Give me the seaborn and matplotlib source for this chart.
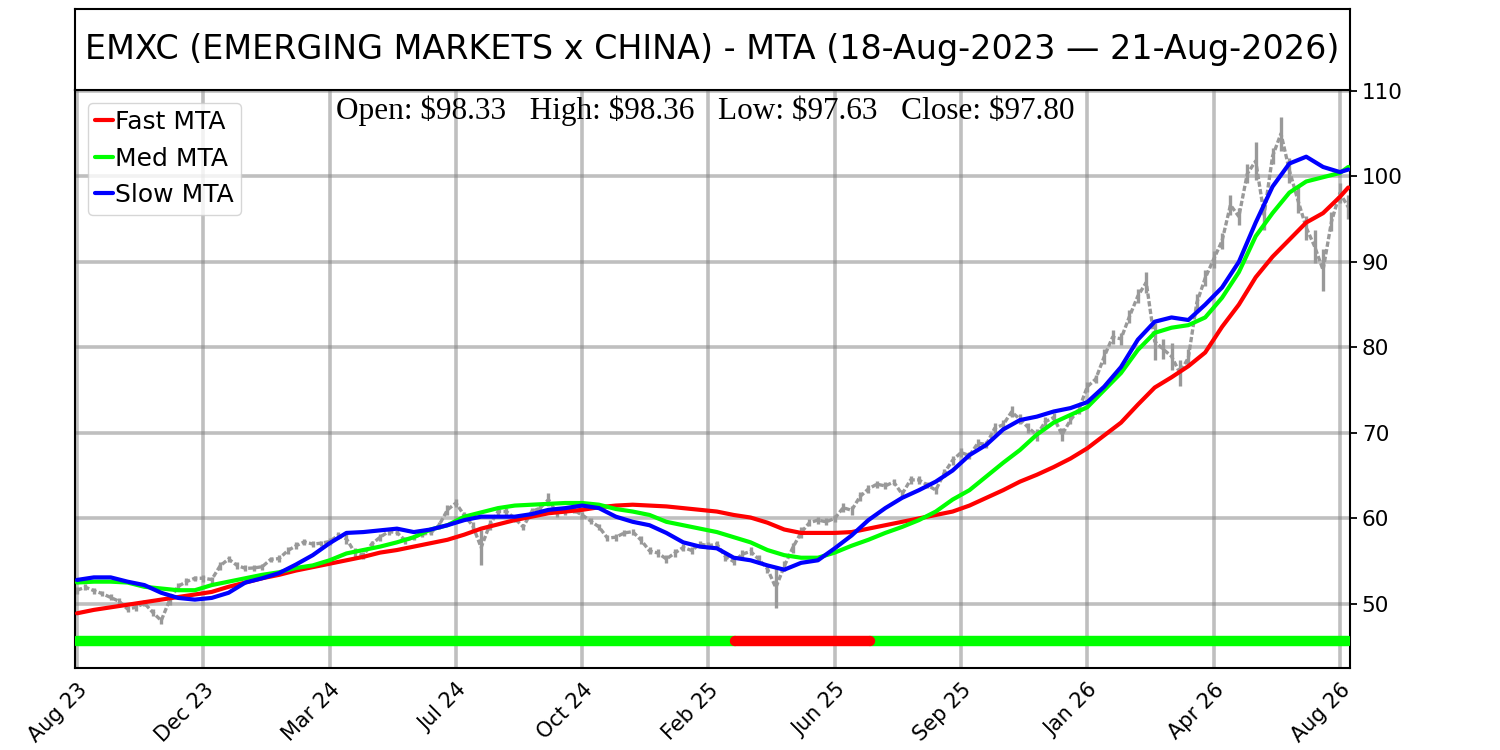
import numpy as np
import pandas as pd
import matplotlib
matplotlib.use("Agg")
import matplotlib.pyplot as plt
import seaborn as sns

# %% data

TITLE = "EMXC (EMERGING MARKETS x CHINA) - MTA (18-Aug-2023 \u2014 21-Aug-2026)"
OHLC_TEXT = r"Open: \$98.33   High: \$98.36   Low: \$97.63   Close: \$97.80"

n_bars = 756

# price bars sampled every 5 trading days (bar index = 5 * position)
price_low = [
    51.2, 51.6, 51.2, 50.9, 50.4, 49.9, 49.0, 49.2, 49.7, 48.6,
    47.7, 49.9, 51.6, 52.2, 52.7, 52.6, 52.5, 54.0, 54.9, 54.1,
    53.8, 53.9, 54.0, 54.9, 54.9, 55.8, 56.4, 56.9, 56.7, 56.8,
    56.9, 57.6, 57.0, 55.5, 55.3, 56.6, 57.4, 58.1, 58.0, 57.0,
    57.5, 57.8, 58.0, 58.8, 60.4, 61.3, 59.9, 58.7, 54.6, 58.6,
    60.4, 60.4, 59.6, 58.6, 60.4, 60.8, 61.4, 60.2, 60.4, 60.6,
    60.0, 59.3, 58.6, 57.3, 57.4, 57.9, 58.1, 57.0, 55.8, 55.5,
    54.8, 55.5, 56.2, 55.8, 56.6, 56.4, 56.6, 55.0, 54.5, 55.3,
    55.7, 54.7, 53.6, 49.5, 53.8, 56.0, 57.7, 59.1, 59.4, 59.2,
    59.6, 60.7, 60.4, 62.0, 63.0, 63.6, 63.4, 63.9, 62.4, 64.0,
    64.0, 63.5, 62.9, 64.8, 66.3, 67.2, 66.9, 68.3, 68.2, 70.0,
    70.4, 71.8, 71.0, 70.0, 69.0, 70.8, 71.3, 69.0, 71.0, 72.2,
    74.8, 75.8, 78.0, 80.4, 80.3, 82.8, 85.2, 86.4, 78.5, 78.6,
    77.4, 75.5, 77.8, 84.2, 87.2, 89.3, 91.5, 95.5, 94.3, 99.2,
    99.6, 93.7, 101.4, 103.0, 99.2, 95.7, 92.6, 89.9, 86.6, 93.6,
    96.9, 95.0,
]
price_high = [
    52.0, 52.3, 51.9, 51.5, 51.1, 50.7, 49.8, 50.0, 50.5, 49.4,
    48.4, 51.0, 52.5, 53.0, 53.3, 53.4, 53.2, 54.9, 55.6, 54.9,
    54.5, 54.5, 54.7, 55.5, 55.7, 56.6, 57.2, 57.6, 57.3, 57.4,
    57.7, 58.4, 58.2, 56.5, 56.1, 57.4, 58.2, 58.8, 58.7, 57.8,
    58.1, 58.5, 58.6, 59.6, 61.6, 62.3, 60.8, 59.6, 58.6, 59.8,
    61.2, 61.2, 60.4, 59.4, 61.2, 61.6, 63.0, 61.0, 61.2, 61.3,
    60.8, 60.1, 59.4, 58.1, 58.2, 58.7, 58.8, 57.9, 56.6, 56.4,
    55.7, 56.4, 57.0, 56.7, 57.4, 57.2, 57.4, 56.1, 55.4, 56.3,
    56.6, 55.7, 54.6, 54.3, 55.0, 57.1, 59.0, 59.9, 60.2, 60.0,
    60.4, 61.8, 61.5, 63.1, 63.9, 64.4, 64.2, 64.6, 63.3, 65.0,
    65.0, 64.3, 63.7, 65.8, 67.3, 68.2, 67.8, 69.3, 69.1, 71.1,
    71.5, 73.1, 72.2, 71.2, 70.5, 71.8, 72.3, 70.6, 72.0, 73.3,
    76.0, 76.8, 79.8, 82.0, 81.7, 84.4, 86.8, 88.8, 82.9, 81.0,
    80.5, 78.5, 79.8, 86.2, 89.0, 91.3, 93.4, 97.8, 96.3, 101.4,
    104.0, 97.3, 103.3, 107.0, 102.2, 98.8, 95.4, 93.7, 91.5, 95.8,
    99.2, 97.8,
]

# moving trend averages, read every 10 bars
mta_index = list(range(0, 751, 10)) + [755]
fast_mta = [
    48.9, 49.3, 49.6, 49.9, 50.2, 50.5, 50.8, 51.1, 51.4, 52.0,
    52.5, 53.0, 53.4, 53.9, 54.3, 54.7, 55.1, 55.5, 56.0, 56.3,
    56.7, 57.1, 57.5, 58.1, 58.8, 59.3, 59.8, 60.2, 60.6, 60.8,
    61.0, 61.3, 61.5, 61.6, 61.5, 61.4, 61.2, 61.0, 60.8, 60.4,
    60.1, 59.5, 58.7, 58.3, 58.3, 58.3, 58.4, 58.8, 59.2, 59.6,
    60.0, 60.4, 60.8, 61.5, 62.4, 63.3, 64.3, 65.1, 66.0, 67.0,
    68.2, 69.7, 71.2, 73.3, 75.3, 76.5, 77.8, 79.4, 82.4, 85.0,
    88.2, 90.6, 92.6, 94.6, 95.7, 97.6, 98.7,
]
med_mta = [
    52.5, 52.6, 52.6, 52.5, 52.0, 51.8, 51.6, 51.6, 52.2, 52.6,
    53.0, 53.4, 53.7, 54.2, 54.5, 55.1, 55.9, 56.3, 56.7, 57.2,
    57.8, 58.7, 59.2, 60.2, 60.7, 61.2, 61.5, 61.6, 61.7, 61.8,
    61.8, 61.6, 61.1, 60.8, 60.4, 59.6, 59.2, 58.8, 58.4, 57.8,
    57.2, 56.3, 55.7, 55.4, 55.4, 56.0, 56.8, 57.5, 58.3, 59.0,
    59.8, 60.8, 62.2, 63.3, 64.9, 66.5, 68.0, 69.8, 71.2, 72.1,
    73.0, 75.0, 77.0, 79.7, 81.7, 82.3, 82.6, 83.5, 85.8, 88.8,
    93.0, 95.7, 98.1, 99.4, 99.9, 100.4, 101.1,
]
slow_mta = [
    52.8, 53.1, 53.1, 52.6, 52.2, 51.3, 50.7, 50.5, 50.7, 51.3,
    52.5, 53.0, 53.6, 54.6, 55.7, 57.1, 58.3, 58.4, 58.6, 58.8,
    58.4, 58.7, 59.2, 59.8, 60.2, 60.2, 60.2, 60.5, 61.0, 61.2,
    61.5, 61.2, 60.2, 59.6, 59.2, 58.3, 57.2, 56.7, 56.5, 55.4,
    55.1, 54.5, 54.0, 54.8, 55.1, 56.5, 58.0, 59.8, 61.2, 62.4,
    63.3, 64.3, 65.6, 67.4, 68.6, 70.4, 71.5, 71.9, 72.5, 72.9,
    73.6, 75.4, 77.7, 80.9, 83.0, 83.5, 83.2, 85.0, 87.0, 90.0,
    94.6, 98.8, 101.5, 102.3, 101.1, 100.5, 100.8,
]

# signal strip at the bottom: (start bar, end bar, colour)
signal_start = [0, 391, 471]
signal_end = [391, 471, 755]
signal_color = ["#00ff00", "#ff0000", "#00ff00"]
signal_level = 45.7

tick_pos = [0, 75, 150, 225, 300, 375, 450, 525, 600, 675, 750]
tick_labels = ["Aug 23", "Dec 23", "Mar 24", "Jul 24", "Oct 24", "Feb 25",
               "Jun 25", "Sep 25", "Jan 26", "Apr 26", "Aug 26"]

# %% plot

sns.set_style("white")
plt.rcParams['font.family'] = ['DejaVu Sans']
plt.rcParams['text.color'] = 'black'
plt.rcParams['xtick.color'] = 'black'
plt.rcParams['ytick.color'] = 'black'

fig = plt.figure(figsize=(15, 7.5), dpi=100)
ax = fig.add_axes([0.05, 0.1093, 0.85, 0.7707])

# price bars: high-low ticks plus a broken trace through their middles
bar_x = np.arange(len(price_low)) * 5
bar_mid = (np.array(price_low) + np.array(price_high)) / 2
ax.plot(bar_x, bar_mid, color="#999999", linewidth=2.4, linestyle=(0, (1.6, 0.7)), zorder=2)
ax.vlines(bar_x, price_low, price_high, color="#999999", linewidth=2.4, zorder=2)

df = pd.DataFrame({"bar": mta_index, "Fast MTA": fast_mta,
                   "Med MTA": med_mta, "Slow MTA": slow_mta})
for name, col in [("Fast MTA", "#ff0000"), ("Med MTA", "#00ff00"), ("Slow MTA", "#0000ff")]:
    sns.lineplot(data=df, x="bar", y=name, color=col, linewidth=3, label=name, ax=ax, zorder=3)

for s, e, c in zip(signal_start, signal_end, signal_color):
    ax.plot([s, e], [signal_level, signal_level], color=c, linewidth=7.5,
            solid_capstyle="round", zorder=4 if c == "#ff0000" else 3)

ax.set_xlim(-1.2, n_bars)
ax.set_ylim(42.5, 110.1)
ax.set_xticks(tick_pos)
ax.set_xticklabels(tick_labels, rotation=45, ha="right", rotation_mode="anchor", fontsize=15)
ax.yaxis.tick_right()
ax.set_yticks([50, 60, 70, 80, 90, 100, 110])
ax.tick_params(axis="y", labelsize=15.5, length=5, width=1.3, direction="out")
ax.tick_params(axis="x", length=5, width=1.3, direction="out")
ax.set_xlabel("")
ax.set_ylabel("")
ax.grid(True, color="grey", alpha=0.5, linewidth=2.6)
ax.set_axisbelow(True)
for sp in ax.spines.values():
    sp.set_color("black")
    sp.set_linewidth(1.5)

ax.legend(loc="upper left", fontsize=18, handlelength=0.7, handletextpad=0.1,
          borderpad=0.3, labelspacing=0.5)

ax.text(0.494, 0.99, OHLC_TEXT, transform=ax.transAxes, ha="center", va="top",
        family="Liberation Serif", fontsize=22.5)

# title box above the chart
tax = fig.add_axes([0.05, 0.88, 0.85, 0.108])
tax.set_xticks([])
tax.set_yticks([])
for sp in tax.spines.values():
    sp.set_color("black")
    sp.set_linewidth(1.5)
tax.text(0.5, 0.5, TITLE, ha="center", va="center", fontsize=24, transform=tax.transAxes)

plt.savefig("out.png", dpi=100)
